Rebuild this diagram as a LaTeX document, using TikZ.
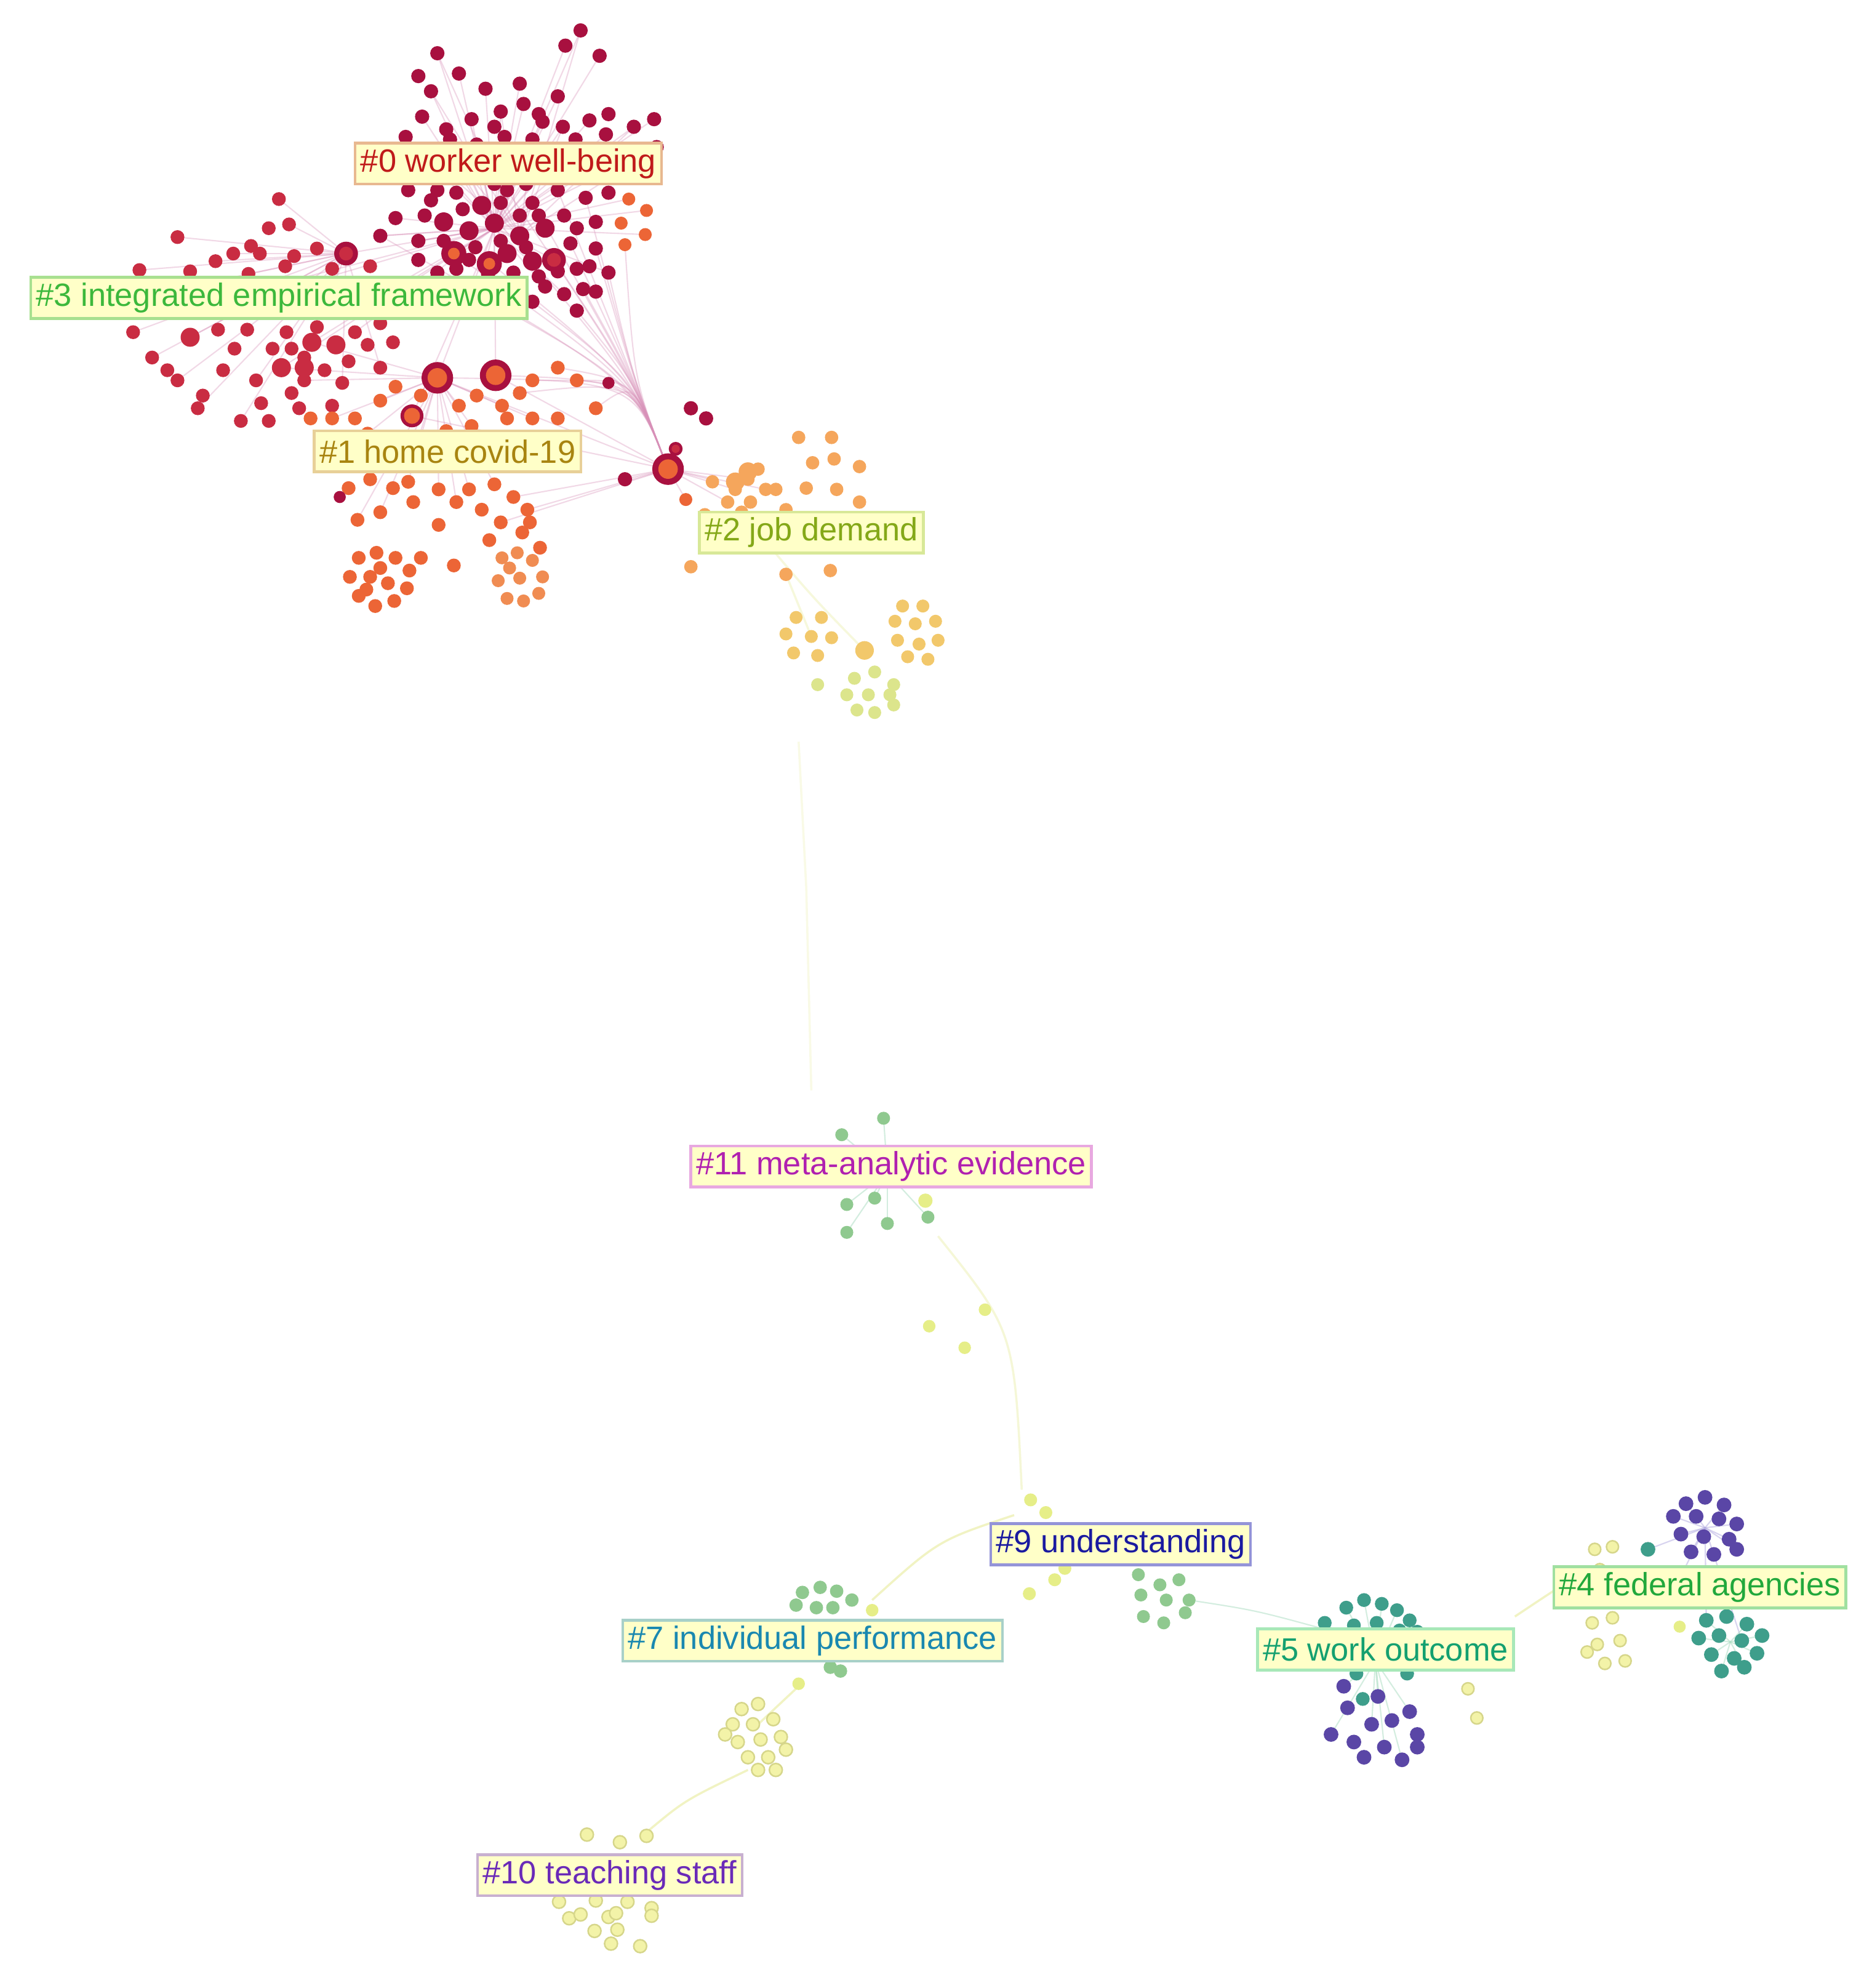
\documentclass[tikz,border=0pt]{standalone}
\usepackage{fontspec}
\setmainfont{Liberation Sans}
\definecolor{cA}{HTML}{A8103F}
\definecolor{cB}{HTML}{C92C42}
\definecolor{cC}{HTML}{EC6536}
\definecolor{cCl}{HTML}{F08C52}
\definecolor{cD}{HTML}{F5A65C}
\definecolor{cE}{HTML}{F2C86B}
\definecolor{cF}{HTML}{DCE58C}
\definecolor{cG}{HTML}{8FC98F}
\definecolor{cH}{HTML}{E6EE88}
\definecolor{cP}{HTML}{F3F3A8}
\definecolor{cPd}{HTML}{D6D68A}
\definecolor{cT}{HTML}{3E9E8B}
\definecolor{cV}{HTML}{5A46A6}
\definecolor{edgeP}{HTML}{D890B8}
\definecolor{edgeY}{HTML}{E8EC9C}
\definecolor{edgeG}{HTML}{A8DCC0}
\definecolor{edgeV}{HTML}{B0A8E0}
\definecolor{labfill}{HTML}{FFFFC8}
\definecolor{tA}{HTML}{C01A1A}\definecolor{bA}{HTML}{E8B890}
\definecolor{tB}{HTML}{3CB83C}\definecolor{bB}{HTML}{A8E090}
\definecolor{tC}{HTML}{A88410}\definecolor{bC}{HTML}{E8D098}
\definecolor{tD}{HTML}{84A818}\definecolor{bD}{HTML}{D8E898}
\definecolor{tE}{HTML}{B020B0}\definecolor{bE}{HTML}{E8A8E0}
\definecolor{tF}{HTML}{1A1AA0}\definecolor{bF}{HTML}{9494D8}
\definecolor{tG}{HTML}{1A88B0}\definecolor{bG}{HTML}{A8D0C8}
\definecolor{tH}{HTML}{14A070}\definecolor{bH}{HTML}{A8E8B8}
\definecolor{tI}{HTML}{22A83C}\definecolor{bI}{HTML}{A0E0A0}
\definecolor{tJ}{HTML}{6A2AB8}\definecolor{bJ}{HTML}{C8B0D0}
\begin{document}
\begin{tikzpicture}[x=0.020605cm,y=-0.020605cm,
  lab/.style={draw, fill=labfill, line width=1.3pt, inner sep=2.5pt,
    minimum height=19pt, font=\fontsize{14.9}{16}\selectfont},
  edgep/.style={edgeP, line width=0.6pt, opacity=0.35},
  edgey/.style={edgeY, line width=1pt, opacity=0.6},
  edgeg/.style={edgeG, line width=0.6pt, opacity=0.5},
  edgev/.style={edgeV, line width=0.6pt, opacity=0.5},
  pale/.style={fill=cP, draw=cPd, line width=0.7pt}]
\fill[white] (0,0) rectangle (1470,1568);
\path[use as bounding box] (0,0) rectangle (1470,1568);

% ---------- faint edges, top region ----------
\foreach \p in {(458,24),(446,36),(473,44),(345,42),(362,58),(340,72),(383,70),(395,88),(413,82),(428,96),(444,100),(440,76),(410,66),(372,94),(352,102),(333,92),(320,108),(336,118),(356,122),(376,114),(398,108),(420,110),(454,110),(478,106),(500,100),(516,94),(518,116),(488,122),(465,95),(330,190),(312,172),(300,186),(378,226),(430,226),(445,232),(480,215),(496,157),(510,166),(509,185)}
  \draw[edgep] (390,180) -- \p;
\foreach \p in {(458,24),(345,42),(340,72),(395,88),(444,100),(320,108),(356,122),(420,110),(500,100),(518,116)}
  \draw[edgep] (410,186) -- \p;
\foreach \p in {(220,157),(140,187),(110,213),(130,230),(196,216),(250,196),(105,262),(150,266),(120,282),(140,300),(202,300),(240,282),(270,302),(300,290),(190,332),(156,322),(184,200),(170,206),(228,177)}
  \draw[edgep] (273,200) -- \p;
\foreach \p in {(273,200),(358,200),(390,210),(437,205),(300,186),(330,190),(345,298),(391,296),(280,262),(300,232),(212,226),(240,224),(246,270),(222,290),(325,328)}
  \draw[edgep] (390,180) -- \p;
\foreach \p in {(358,200),(390,210),(437,205),(455,245),(460,228),(480,215),(420,238),(345,298),(391,296),(420,300),(440,290),(455,300),(470,322),(410,310),(380,160),(420,160),(440,150),(400,150),(493,193),(462,156),(450,192),(470,196),(345,215),(300,186)}
  \draw[edgep] (527,370) .. controls (500,300) .. \p;
\foreach \p in {(300,316),(332,312),(362,320),(396,320),(420,330),(372,336),(330,346),(290,342),(322,380),(346,386),(370,386),(390,382),(282,410),(300,404),(360,396),(262,330),(246,270),(222,290),(240,300)}
  \draw[edgep] (345,298) -- \p;
\foreach \p in {(560,378),(580,386),(590,378),(541,394),(604,386),(574,396),(493,378),(395,412),(416,402),(405,392),(391,296),(345,298),(325,328)}
  \draw[edgep] (527,370) -- \p;
\draw[edgey, opacity=0.35] (598,420) .. controls (640,470) .. (682,513);
\draw[edgey, opacity=0.35] (620,453) -- (640,502);
% long faint links
\draw[edgey, opacity=0.25] (630,585) -- (636,700) -- (640,860);
\draw[edgey, opacity=0.4] (740,975) .. controls (800,1050) .. (806,1175);
\draw[edgey] (800,1195) .. controls (740,1215) .. (688,1262);
\draw[edgeg] (938,1262) .. controls (990,1270) .. (1045,1285);
\draw[edgey] (1195,1275) .. controls (1225,1255) .. (1252,1238);
\draw[edgey] (630,1330) -- (598,1360);
\draw[edgey] (590,1396) .. controls (540,1420) .. (509,1446);
\foreach \p in {(697,882),(664,895),(668,950),(690,945),(732,960),(700,965),(668,972)}
  \draw[edgeg] (700,925) -- \p;
\foreach \p in {(1062,1268),(1076,1262),(1090,1265),(1102,1270),(1112,1278),(1045,1280),(1060,1330),(1087,1338),(1050,1368),(1082,1360),(1112,1350),(1092,1378),(1106,1388)}
  \draw[edgeg] (1085,1310) -- \p;
\foreach \p in {(1330,1186),(1360,1187),(1320,1196),(1370,1202),(1326,1210),(1364,1214),(1334,1224),(1370,1222),(1300,1222),(1326,1243),(1346,1278),(1374,1294)}
  \draw[edgev] (1345,1205) -- \p;
\foreach \p in {(1346,1278),(1378,1281),(1340,1292),(1390,1290),(1350,1305),(1386,1304),(1358,1318),(1376,1315)}
  \draw[edgeg] (1365,1295) -- \p;

% ---------- top crimson cluster (#0) ----------
\foreach \p in {(458,24),(446,36),(473,44),(345,42),(362,58),(340,72),(383,70),(395,88),(413,82),(428,96),(444,100),(440,76),(410,66),(372,94),(352,102),(333,92),(320,108),(336,118),(356,122),(376,114),(398,108),(420,110),(454,110),(478,106),(500,100),(516,94),(518,116),(488,122),(465,95),(390,100),(405,120),(340,132),(360,140),(432,138),
  (322,150),(340,158),(360,152),(380,162),(400,150),(420,160),(440,150),(462,156),(480,152),(350,175),(370,182),(390,176),(410,186),(430,180),(450,192),(470,196),(360,212),(385,216),(400,200),(420,206),(440,214),(330,190),(312,172),(300,186),(378,226),(430,226),(445,232),(420,238),(345,215),(365,224),(455,212),(395,190),(375,195),(410,170),(335,170),(470,175),(480,215),(455,245),(460,228),(545,322),(557,330),(493,378),
  (350,190),(365,165),(395,160),(415,195),(425,170),(445,170),(455,180),(465,210),(370,205),(405,215),(425,218),(345,150),(390,145),(415,145),(460,140),(330,205),(350,230),(400,230),(470,230),(385,130),(355,110),(425,90),(480,90),(330,60)}
  \fill[cA] \p circle[radius=3.3pt];
\foreach \p in {(390,176),(410,186),(370,182),(430,180),(380,162),(400,200),(420,206),(350,175)}
  \fill[cA] \p circle[radius=4.4pt];
\foreach \p in {(496,157),(510,166),(490,176),(509,185),(493,193)}
  \fill[cC] \p circle[radius=3pt];

% ---------- red cluster (#3) ----------
\foreach \p in {(220,157),(228,177),(212,180),(198,194),(184,200),(170,206),(140,187),(110,213),(130,230),(150,214),(196,216),(232,202),(250,196),(262,212),(240,224),(212,226),(258,230),(292,210),(300,232),(105,262),(150,266),(172,260),(120,282),(140,300),(160,312),(132,292),(176,292),(202,300),(222,290),(240,282),(246,270),(256,292),(270,302),(300,290),(290,272),(280,262),(226,262),(240,300),(262,320),(206,318),(190,332),(156,322),(212,332),(236,322),
  (265,272),(275,285),(250,258),(230,275),(215,275),(185,275),(195,260),(300,255),(310,270),(285,245),(230,310),(205,200),(225,210)}
  \fill[cB] \p circle[radius=3.2pt];
\foreach \p in {(150,266),(246,270),(240,290),(222,290),(265,272)}
  \fill[cB] \p circle[radius=4.4pt];

% ---------- orange cluster (#1) ----------
\foreach \p in {(300,316),(312,305),(332,312),(362,320),(376,312),(396,320),(410,310),(420,300),(440,290),(455,300),(440,330),(420,330),(400,330),(372,336),(352,340),(330,346),(290,342),(280,330),(470,322),(262,330),(245,330),(275,385),(292,378),(322,380),(346,386),(370,386),(390,382),(405,392),(416,402),(282,410),(300,404),(326,396),(346,414),(360,396),(380,402),(395,412),(332,440),(358,446),(386,426),(412,420),(426,432),(418,412),(310,385),
  (283,440),(297,436),(312,440),(323,450),(321,464),(311,474),(296,478),(283,470),(276,455),(292,455),(306,460),(300,448),(289,465)}
  \fill[cC] \p circle[radius=3.2pt];
\foreach \p in {(396,440),(408,436),(420,442),(428,455),(425,468),(413,474),(400,472),(393,458),(410,456),(402,448)}
  \fill[cCl] \p circle[radius=3pt];
\fill[cA] (480,302) circle[radius=2.8pt];
\fill[cA] (268,392) circle[radius=2.8pt];

% ---------- light orange cluster (#2) ----------
\foreach \p in {(580,386),(590,378),(598,370),(604,386),(574,396),(592,396),(562,380),(556,406),(630,345),(656,345),(641,365),(658,362),(678,368),(636,385),(660,386),(678,396),(620,402),(545,447),(620,453),(655,450),(612,386),(570,412),(558,420),(585,404)}
  \fill[cD] \p circle[radius=3.1pt];
\foreach \p in {(590,372),(580,380)}
  \fill[cD] \p circle[radius=4.3pt];
\fill[cC] (541,394) circle[radius=3pt];

% ---------- yellow clusters under #2 ----------
\foreach \p in {(628,487),(648,487),(620,500),(640,502),(656,503),(626,515),(645,517),(712,478),(728,478),(706,490),(722,492),(738,490),(708,505),(725,508),(740,505),(716,518),(732,520)}
  \fill[cE] \p circle[radius=3pt];
\fill[cE] (682,513) circle[radius=4.3pt];
\foreach \p in {(674,535),(690,530),(705,540),(668,548),(685,548),(702,548),(676,560),(690,562),(705,556),(645,540)}
  \fill[cF] \p circle[radius=3pt];

% ---------- big ringed nodes ----------
\foreach \p in {(358,200),(386,208)}
  {\fill[cA] \p circle[radius=5.8pt]; \fill[cC] \p circle[radius=2.7pt];}
\foreach \p in {(273,200),(437,205)}
  {\fill[cA] \p circle[radius=5.5pt]; \fill[cB] \p circle[radius=3.2pt];}
\foreach \p in {(345,298),(391,296),(527,370)}
  {\fill[cA] \p circle[radius=7.3pt]; \fill[cC] \p circle[radius=4.5pt];}
\fill[cA] (325,328) circle[radius=5.3pt]; \fill[cC] (325,328) circle[radius=3.7pt];
\fill[cA] (533,354) circle[radius=3.2pt]; \fill[cB] (533,354) circle[radius=1.9pt];

% ---------- #11 area ----------
\foreach \p in {(697,882),(664,895),(668,950),(690,945),(732,960),(700,965),(668,972)}
  \fill[cG] \p circle[radius=3pt];
\fill[cH] (730,947) circle[radius=3.3pt];
\foreach \p in {(777,1033),(733,1046),(761,1063)}
  \fill[cH] \p circle[radius=2.9pt];

% ---------- #9 area ----------
\foreach \p in {(813,1183),(825,1193),(832,1246),(840,1237),(812,1257)}
  \fill[cH] \p circle[radius=3pt];
\foreach \p in {(898,1242),(915,1250),(930,1246),(900,1258),(920,1262),(935,1272),(902,1275),(918,1280),(938,1262)}
  \fill[cG] \p circle[radius=3pt];

% ---------- #7 area ----------
\foreach \p in {(633,1256),(647,1252),(660,1255),(672,1262),(644,1268),(657,1268),(628,1266),(655,1315),(663,1318)}
  \fill[cG] \p circle[radius=3.1pt];
\foreach \p in {(688,1270),(630,1328)}
  \fill[cH] \p circle[radius=2.9pt];
\foreach \p in {(585,1348),(598,1344),(578,1360),(594,1360),(610,1356),(582,1374),(600,1372),(616,1370),(590,1386),(606,1386),(620,1380),(598,1396),(572,1368),(612,1396)}
  \filldraw[pale] \p circle[radius=3pt];

% ---------- #10 area ----------
\foreach \p in {(463,1447),(489,1453),(510,1448),(441,1500),(470,1499),(495,1500),(514,1505),(514,1511),(449,1513),(458,1510),(480,1512),(486,1509),(469,1523),(487,1522),(482,1533),(505,1535)}
  \filldraw[pale] \p circle[radius=3pt];

% ---------- #5 area ----------
\foreach \p in {(1062,1268),(1076,1262),(1090,1265),(1102,1270),(1112,1278),(1118,1287),(1068,1282),(1086,1280),(1104,1286),(1045,1280),(1110,1320),(1070,1320),(1075,1340)}
  \fill[cT] \p circle[radius=3.2pt];
\foreach \p in {(1060,1330),(1063,1347),(1087,1338),(1050,1368),(1068,1374),(1082,1360),(1098,1357),(1112,1350),(1118,1368),(1092,1378),(1076,1386),(1106,1388),(1118,1378)}
  \fill[cV] \p circle[radius=3.4pt];
\foreach \p in {(1158,1332),(1165,1355)}
  \filldraw[pale] \p circle[radius=2.8pt];

% ---------- #4 area ----------
\foreach \p in {(1330,1186),(1345,1181),(1360,1187),(1320,1196),(1338,1196),(1356,1198),(1370,1202),(1326,1210),(1344,1212),(1364,1214),(1334,1224),(1352,1226),(1370,1222)}
  \fill[cV] \p circle[radius=3.4pt];
\foreach \p in {(1346,1278),(1362,1275),(1378,1281),(1340,1292),(1356,1290),(1374,1294),(1390,1290),(1350,1305),(1368,1308),(1386,1304),(1358,1318),(1376,1315),(1300,1222),(1326,1243)}
  \fill[cT] \p circle[radius=3.4pt];
\fill[cH] (1325,1283) circle[radius=2.8pt];
\foreach \p in {(1258,1222),(1272,1220),(1262,1238),(1256,1280),(1272,1276),(1260,1297),(1278,1294),(1266,1312),(1282,1310),(1252,1303)}
  \filldraw[pale] \p circle[radius=2.8pt];

% ---------- cluster labels ----------
\node[lab, draw=bA, text=tA] (L0) at (401,129) {\#0 worker well-being};
\node[lab, draw=bB, text=tB] (L3) at (220,235) {\#3 integrated empirical framework};
\node[lab, draw=bC, text=tC] (L1) at (353,356) {\#1 home covid-19};
\node[lab, draw=bD, text=tD] (L2) at (640,420) {\#2 job demand};
\node[lab, draw=bE, text=tE] (L11) at (703,920) {\#11 meta-analytic evidence};
\node[lab, draw=bF, text=tF] (L9) at (884,1218) {\#9 understanding};
\node[lab, draw=bG, text=tG] (L7) at (641,1294) {\#7 individual performance};
\node[lab, draw=bH, text=tH] (L5) at (1093,1301) {\#5 work outcome};
\node[lab, draw=bI, text=tI] (L4) at (1341,1252) {\#4 federal agencies};
\node[lab, draw=bJ, text=tJ] (L10) at (481,1479) {\#10 teaching staff};
\end{tikzpicture}
\end{document}
